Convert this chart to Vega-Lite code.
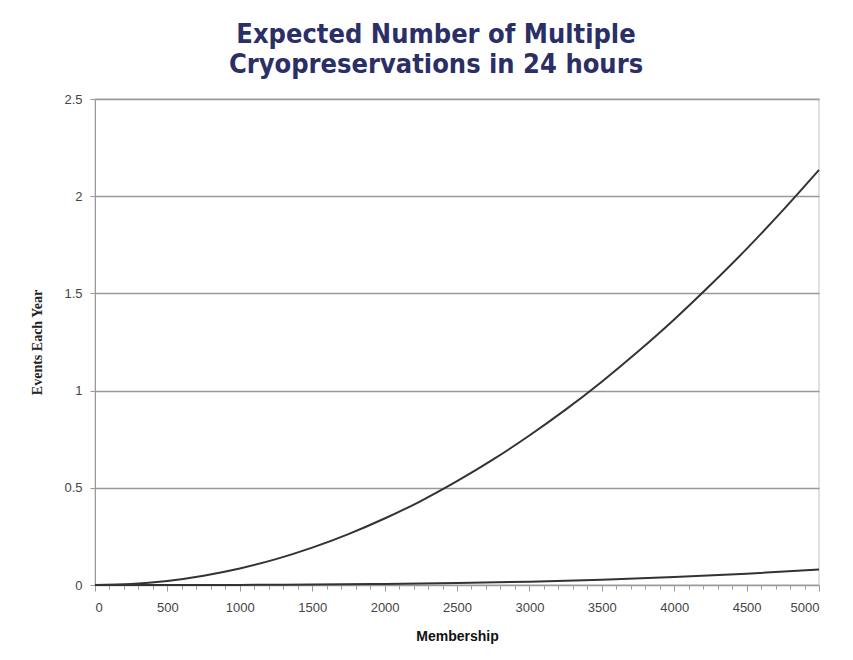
{
  "$schema": "https://vega.github.io/schema/vega-lite/v6.json",
  "width": 724,
  "height": 486,
  "autosize": "none",
  "padding": {"left": 95, "top": 99, "right": 34, "bottom": 75},
  "background": "white",
  "title": {
    "text": ["Expected Number of Multiple", "Cryopreservations in 24 hours"],
    "font": "DejaVu Sans Condensed, Roboto Condensed, Roboto",
    "fontSize": 27,
    "fontWeight": "bold",
    "color": "#2b2f66",
    "lineHeight": 30,
    "anchor": "middle",
    "dx": -21,
    "offset": 14
  },
  "config": {
    "view": {"stroke": "#d8d8d8", "strokeWidth": 1.5},
    "axis": {
      "labelFont": "Liberation Sans",
      "labelFontSize": 13,
      "labelColor": "#444",
      "domainColor": "#999",
      "tickColor": "#999",
      "gridColor": "#999",
      "gridWidth": 1.5
    }
  },
  "data": {
    "values": [
      {"members": 0, "events": 0, "series": "a"},
      {"members": 250, "events": 0.005, "series": "a"},
      {"members": 500, "events": 0.021, "series": "a"},
      {"members": 750, "events": 0.048, "series": "a"},
      {"members": 1000, "events": 0.085, "series": "a"},
      {"members": 1250, "events": 0.133, "series": "a"},
      {"members": 1500, "events": 0.192, "series": "a"},
      {"members": 1750, "events": 0.262, "series": "a"},
      {"members": 2000, "events": 0.342, "series": "a"},
      {"members": 2250, "events": 0.432, "series": "a"},
      {"members": 2500, "events": 0.534, "series": "a"},
      {"members": 2750, "events": 0.646, "series": "a"},
      {"members": 3000, "events": 0.769, "series": "a"},
      {"members": 3250, "events": 0.902, "series": "a"},
      {"members": 3500, "events": 1.046, "series": "a"},
      {"members": 3750, "events": 1.201, "series": "a"},
      {"members": 4000, "events": 1.366, "series": "a"},
      {"members": 4250, "events": 1.543, "series": "a"},
      {"members": 4500, "events": 1.729, "series": "a"},
      {"members": 4750, "events": 1.927, "series": "a"},
      {"members": 5000, "events": 2.135, "series": "a"},
      {"members": 0, "events": 0, "series": "b"},
      {"members": 500, "events": 0.0001, "series": "b"},
      {"members": 1000, "events": 0.0006, "series": "b"},
      {"members": 1500, "events": 0.0022, "series": "b"},
      {"members": 2000, "events": 0.0051, "series": "b"},
      {"members": 2500, "events": 0.010, "series": "b"},
      {"members": 3000, "events": 0.0173, "series": "b"},
      {"members": 3500, "events": 0.0274, "series": "b"},
      {"members": 4000, "events": 0.041, "series": "b"},
      {"members": 4500, "events": 0.058, "series": "b"},
      {"members": 5000, "events": 0.08, "series": "b"}
    ]
  },
  "mark": {"type": "line", "color": "#333", "strokeWidth": 2, "interpolate": "monotone"},
  "encoding": {
    "x": {
      "field": "members",
      "type": "quantitative",
      "scale": {"domain": [0, 5000], "nice": false},
      "axis": {
        "title": "Membership",
        "titleFont": "Liberation Sans",
        "titleFontSize": 14,
        "titleFontWeight": "bold",
        "titleColor": "#111",
        "titlePadding": 15,
        "grid": false,
        "values": [0,100,200,300,400,500,600,700,800,900,1000,1100,1200,1300,1400,1500,1600,1700,1800,1900,2000,2100,2200,2300,2400,2500,2600,2700,2800,2900,3000,3100,3200,3300,3400,3500,3600,3700,3800,3900,4000,4100,4200,4300,4400,4500,4600,4700,4800,4900,5000],
        "labelExpr": "datum.value % 500 === 0 ? datum.label : ''",
        "labelOverlap": false,
        "format": "d",
        "tickSize": {"condition": {"test": "datum.value % 500 === 0", "value": 6}, "value": 4},
        "labelPadding": 10
      }
    },
    "y": {
      "field": "events",
      "type": "quantitative",
      "scale": {"domain": [0, 2.5], "nice": false},
      "axis": {
        "title": "Events Each Year",
        "titleFont": "Liberation Serif",
        "titleFontSize": 14,
        "titleFontWeight": "bold",
        "titleColor": "#222",
        "titlePadding": 19,
        "values": [0, 0.5, 1, 1.5, 2, 2.5],
        "format": "~g",
        "tickSize": 5,
        "labelPadding": 8
      }
    },
    "detail": {"field": "series", "type": "nominal"}
  }
}
